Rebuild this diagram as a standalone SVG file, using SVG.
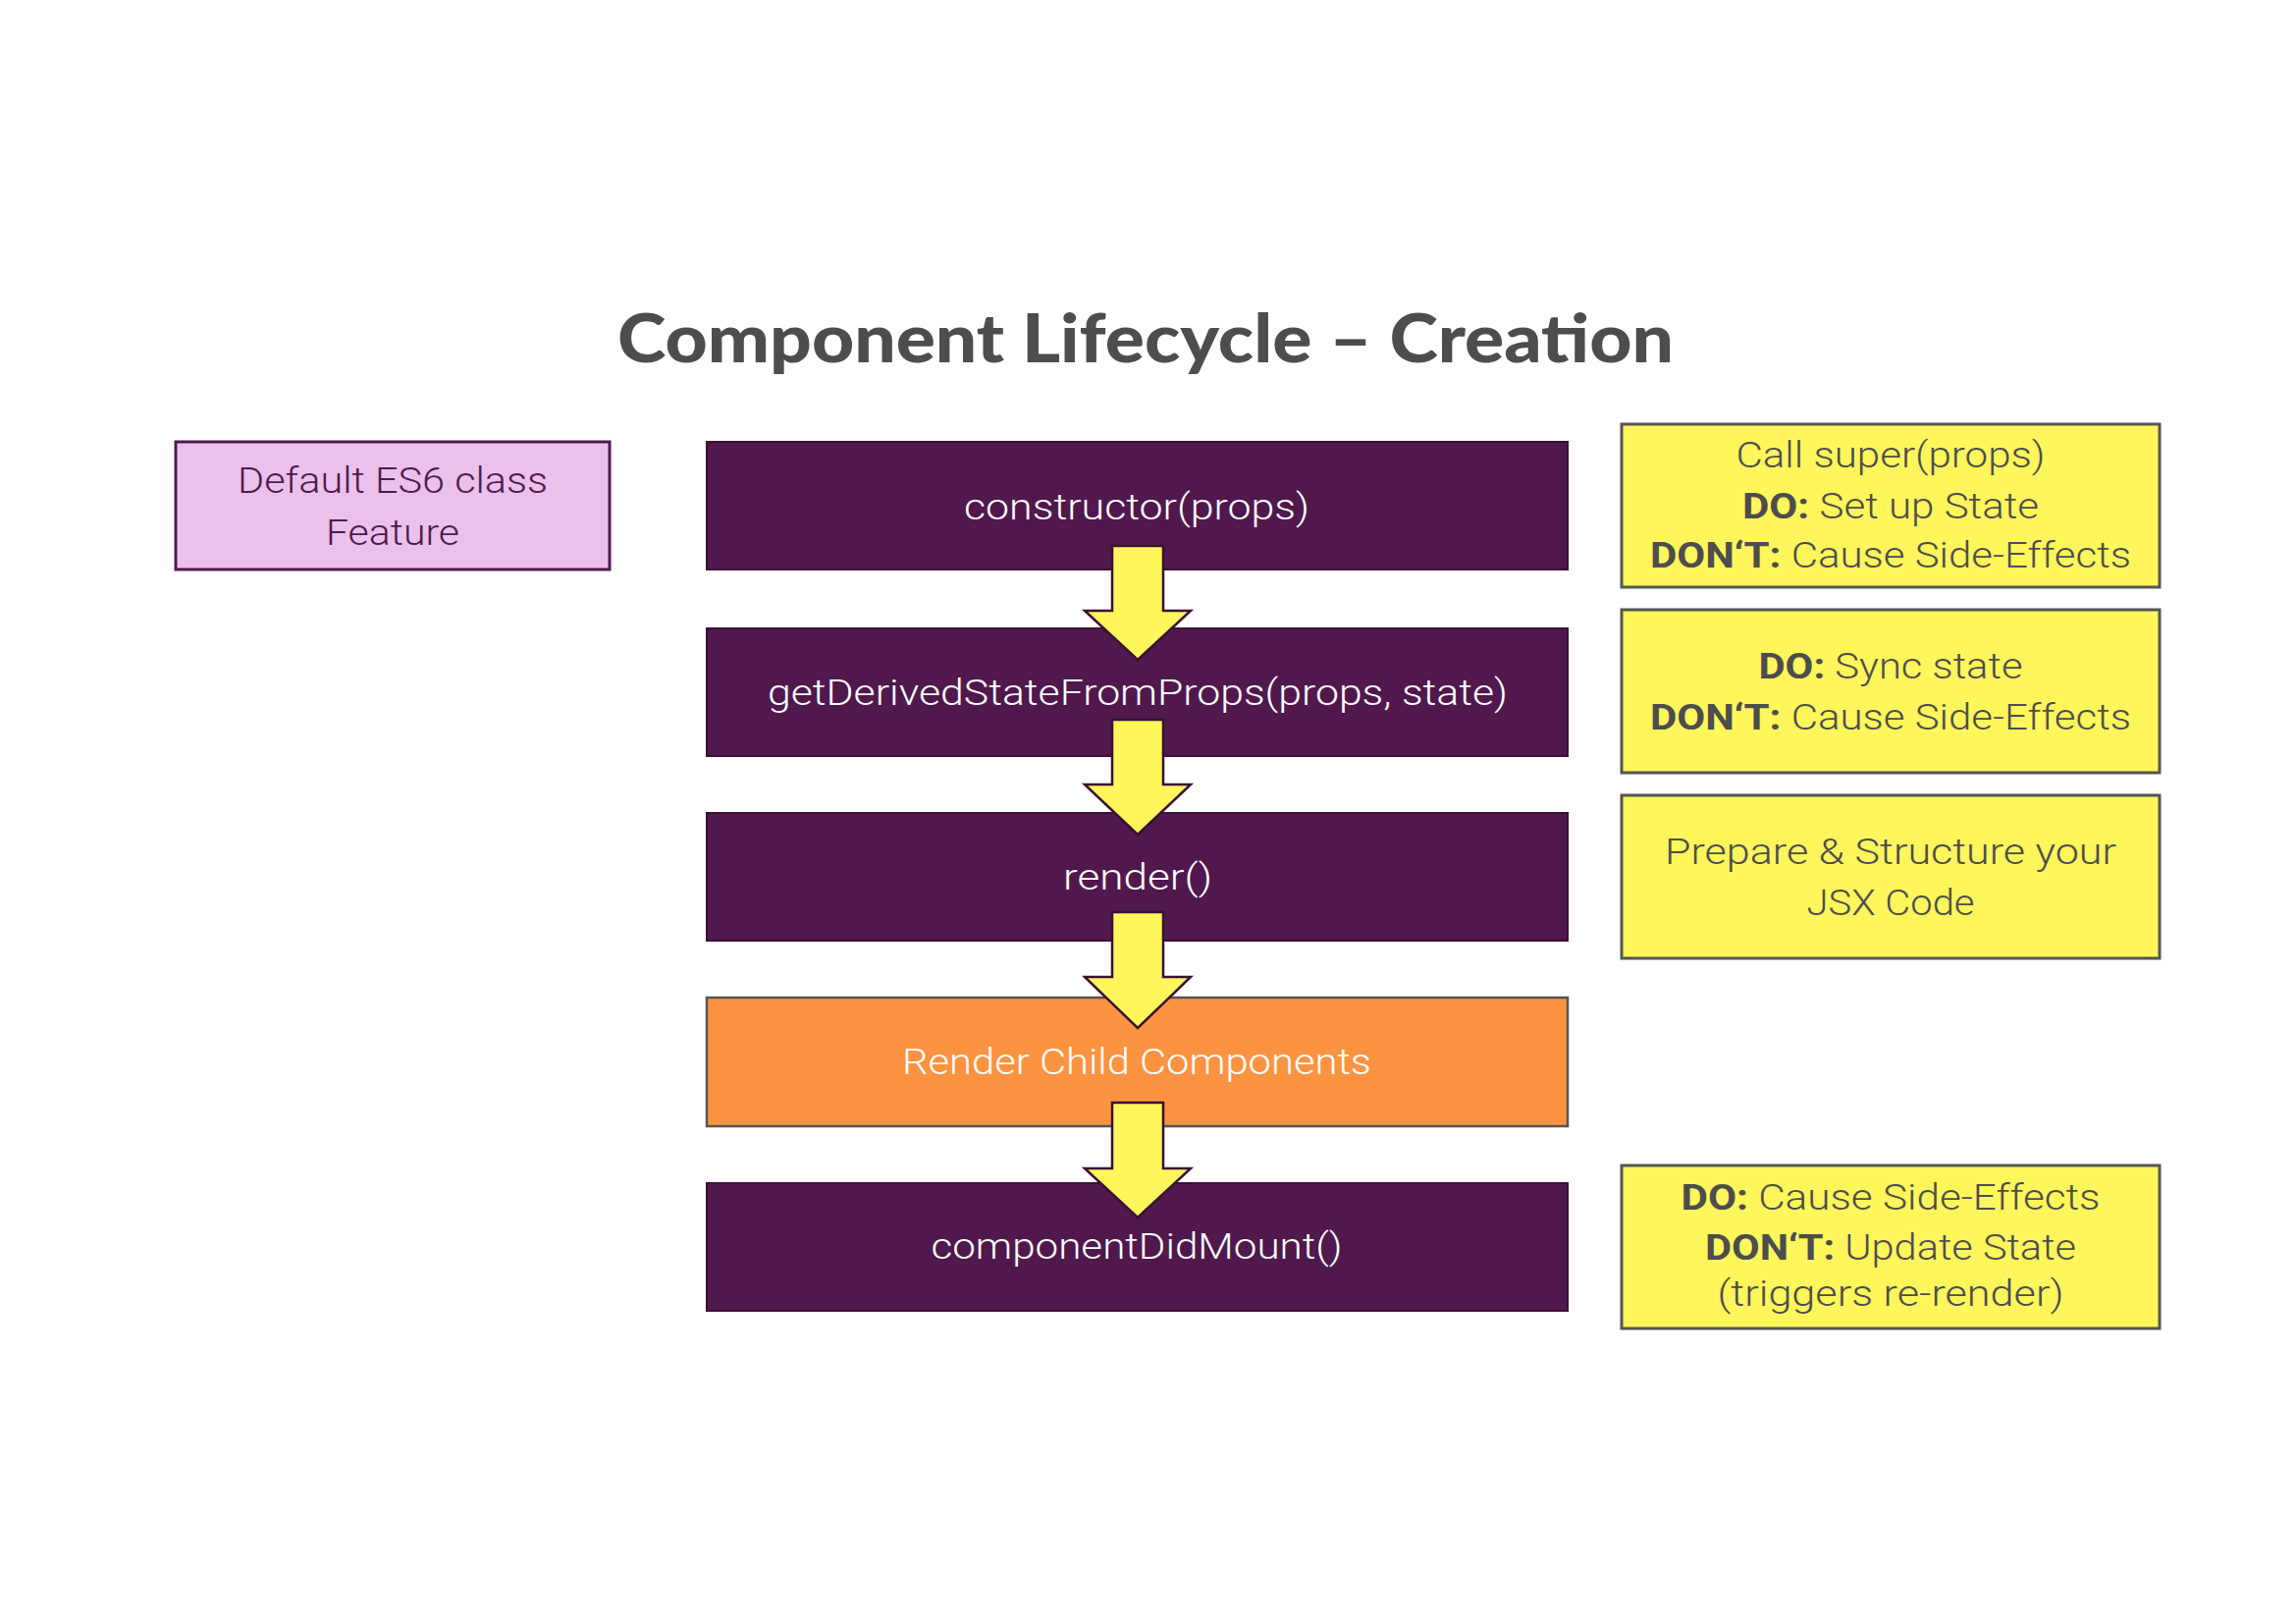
<svg xmlns="http://www.w3.org/2000/svg" width="2339" height="1654" viewBox="0 0 2339 1654">
<style>
.step{fill:#50184c;stroke:#3a1036;stroke-width:2}
.orange{fill:#fb9341;stroke:#555;stroke-width:2.5}
.note{fill:#fef65b;stroke:#555;stroke-width:3}
.es6{fill:#ebc1eb;stroke:#4f1a4e;stroke-width:3}
.wt{font-family:Roboto,"Liberation Sans",sans-serif;font-weight:300;font-size:37px;fill:#fff;text-anchor:middle}
.nt{font-family:Roboto,"Liberation Sans",sans-serif;font-weight:300;font-size:36px;fill:#4d4d4d;text-anchor:middle}
.pt{font-family:Roboto,"Liberation Sans",sans-serif;font-weight:300;font-size:36px;fill:#4f1a4e;text-anchor:middle}
.b{font-weight:700}
.title{font-family:Lato,"Liberation Sans",sans-serif;font-weight:900;font-size:68px;fill:#4d4d4d;text-anchor:middle}
.arrow{fill:#fef65b;stroke:#3a1036;stroke-width:2.5;stroke-linejoin:miter}
</style>
<rect width="2339" height="1654" fill="#fff"/>
<text class="title" x="1167" y="369" textLength="1076" lengthAdjust="spacingAndGlyphs">Component Lifecycle – Creation</text>

<g id="es6">
<rect class="es6" x="179" y="450" width="442" height="130"/>
<text class="pt" x="400" y="502" textLength="316" lengthAdjust="spacingAndGlyphs">Default ES6 class</text>
<text class="pt" x="400" y="555" textLength="136" lengthAdjust="spacingAndGlyphs">Feature</text>
</g>

<g id="constructor">
<rect class="step" x="720" y="450" width="877" height="130"/>
<text class="wt" x="1158" y="529" textLength="352" lengthAdjust="spacingAndGlyphs">constructor(props)</text>
</g>
<g id="getDerived">
<rect class="step" x="720" y="640" width="877" height="130"/>
<text class="wt" x="1159" y="718" textLength="754" lengthAdjust="spacingAndGlyphs">getDerivedStateFromProps(props, state)</text>
</g>
<g id="render">
<rect class="step" x="720" y="828" width="877" height="130"/>
<text class="wt" x="1159" y="906" textLength="152" lengthAdjust="spacingAndGlyphs">render()</text>
</g>
<g id="renderChild">
<rect class="orange" x="720" y="1016" width="877" height="131"/>
<text class="wt" x="1158" y="1094" textLength="478" lengthAdjust="spacingAndGlyphs">Render Child Components</text>
</g>
<g id="didMount">
<rect class="step" x="720" y="1205" width="877" height="130"/>
<text class="wt" x="1158" y="1282" textLength="419" lengthAdjust="spacingAndGlyphs">componentDidMount()</text>
</g>

<g id="connectors">
<polygon class="arrow" points="1133,556 1185,556 1185,622 1213,622 1159,672 1105,622 1133,622"/>
<polygon class="arrow" points="1133,733 1185,733 1185,799 1213,799 1159,850 1105,799 1133,799"/>
<polygon class="arrow" points="1133,929 1185,929 1185,995 1213,995 1159,1047 1105,995 1133,995"/>
<polygon class="arrow" points="1133,1123 1185,1123 1185,1190 1213,1190 1159,1240 1105,1190 1133,1190"/>
</g>

<g id="note1">
<rect class="note" x="1652" y="432" width="548" height="166"/>
<text class="nt" x="1926" y="476" textLength="315" lengthAdjust="spacingAndGlyphs">Call super(props)</text>
<text class="nt" x="1926" y="528" textLength="302" lengthAdjust="spacingAndGlyphs"><tspan class="b">DO:</tspan> Set up State</text>
<text class="nt" x="1926" y="578" textLength="490" lengthAdjust="spacingAndGlyphs"><tspan class="b">DON‘T:</tspan> Cause Side-Effects</text>
</g>
<g id="note2">
<rect class="note" x="1652" y="621" width="548" height="166"/>
<text class="nt" x="1926" y="691" textLength="269" lengthAdjust="spacingAndGlyphs"><tspan class="b">DO:</tspan> Sync state</text>
<text class="nt" x="1926" y="743" textLength="490" lengthAdjust="spacingAndGlyphs"><tspan class="b">DON‘T:</tspan> Cause Side-Effects</text>
</g>
<g id="note3">
<rect class="note" x="1652" y="810" width="548" height="166"/>
<text class="nt" x="1926" y="880" textLength="460" lengthAdjust="spacingAndGlyphs">Prepare &amp; Structure your</text>
<text class="nt" x="1926" y="932" textLength="171" lengthAdjust="spacingAndGlyphs">JSX Code</text>
</g>
<g id="note4">
<rect class="note" x="1652" y="1187" width="548" height="166"/>
<text class="nt" x="1926" y="1232" textLength="427" lengthAdjust="spacingAndGlyphs"><tspan class="b">DO:</tspan> Cause Side-Effects</text>
<text class="nt" x="1926" y="1283" textLength="378" lengthAdjust="spacingAndGlyphs"><tspan class="b">DON‘T:</tspan> Update State</text>
<text class="nt" x="1926" y="1330" textLength="353" lengthAdjust="spacingAndGlyphs">(triggers re-render)</text>
</g>
</svg>
